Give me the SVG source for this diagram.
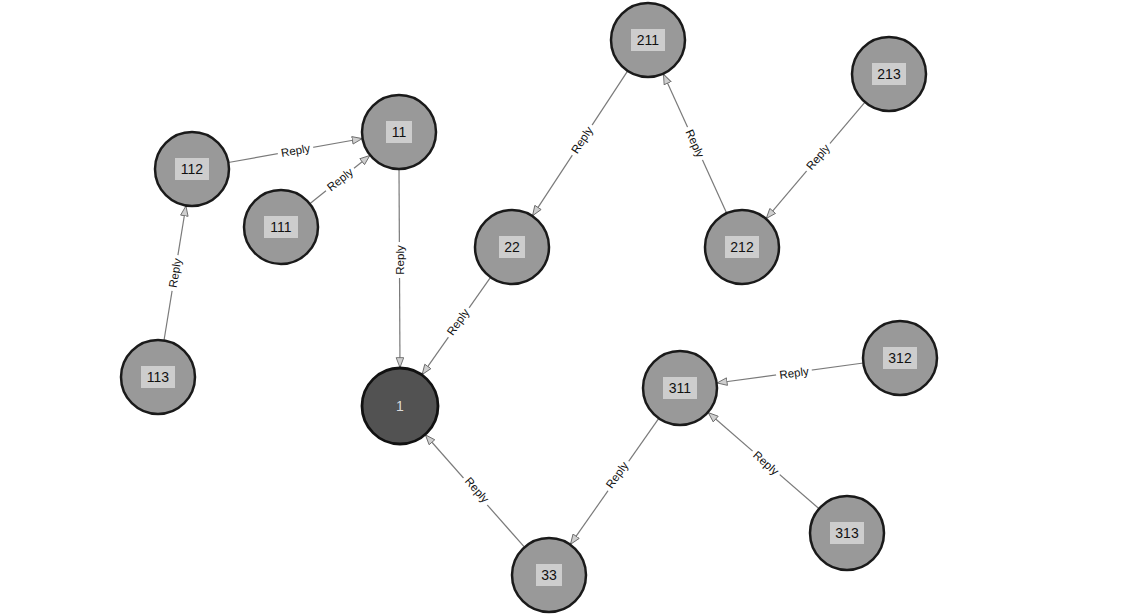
<svg xmlns="http://www.w3.org/2000/svg" width="1125" height="614" viewBox="0 0 1125 614">
<style>
.edge{stroke:#7a7a7a;stroke-width:1.2;fill:none;marker-end:url(#arr)}
.elbg{fill:#fff}
.el{font-family:"Liberation Sans",Arial,sans-serif;font-size:11.5px;fill:#111;text-anchor:middle;dominant-baseline:central}
.node{fill:#999;stroke:#1a1a1a;stroke-width:2.5}
.root{fill:#525252;stroke:#111;stroke-width:2.8}
.lbox{fill:#cdcdcd}
.nl{font-family:"Liberation Sans",Arial,sans-serif;font-size:14px;fill:#111;text-anchor:middle;dominant-baseline:central}
</style>
<defs>
<marker id="arr" viewBox="0 0 12 10" refX="12" refY="5" markerWidth="11" markerHeight="9" markerUnits="userSpaceOnUse" orient="auto">
<path d="M0.5,0.8 L11.5,5 L0.5,9.2 Z" fill="#cfcfcf" stroke="#6a6a6a" stroke-width="1"/>
</marker>
</defs>
<rect width="1125" height="614" fill="#fff"/>
<g id="connectors">
<line class="edge" x1="228.4" y1="162.5" x2="362.6" y2="138.5"/>
<g transform="translate(295.5,150.5) rotate(-10.1)"><rect class="elbg" x="-18" y="-7" width="36" height="14"/><text class="el">Reply</text></g>
<line class="edge" x1="309.8" y1="203.8" x2="370.2" y2="155.2"/>
<g transform="translate(340,179.5) rotate(-38.8)"><rect class="elbg" x="-18" y="-7" width="36" height="14"/><text class="el">Reply</text></g>
<line class="edge" x1="164" y1="340.5" x2="186" y2="205.5"/>
<g transform="translate(175,273) rotate(-80.7)"><rect class="elbg" x="-18" y="-7" width="36" height="14"/><text class="el">Reply</text></g>
<line class="edge" x1="399" y1="169" x2="400" y2="368"/>
<g transform="translate(399.5,260) rotate(-90)"><rect class="elbg" x="-18" y="-7" width="36" height="14"/><text class="el">Reply</text></g>
<line class="edge" x1="490.7" y1="277.2" x2="421.9" y2="374.9"/>
<g transform="translate(458,322) rotate(-54.8)"><rect class="elbg" x="-18" y="-7" width="36" height="14"/><text class="el">Reply</text></g>
<line class="edge" x1="627.7" y1="70.9" x2="532.3" y2="216.1"/>
<g transform="translate(582,140) rotate(-56.7)"><rect class="elbg" x="-18" y="-7" width="36" height="14"/><text class="el">Reply</text></g>
<line class="edge" x1="726.7" y1="213.3" x2="663.3" y2="73.7"/>
<g transform="translate(695,143.5) rotate(65.6)"><rect class="elbg" x="-18" y="-7" width="36" height="14"/><text class="el">Reply</text></g>
<line class="edge" x1="865" y1="102.2" x2="766" y2="218.8"/>
<g transform="translate(818,157) rotate(-49.6)"><rect class="elbg" x="-18" y="-7" width="36" height="14"/><text class="el">Reply</text></g>
<line class="edge" x1="524.5" y1="547.2" x2="425.1" y2="434.5"/>
<g transform="translate(477,490) rotate(48.6)"><rect class="elbg" x="-18" y="-7" width="36" height="14"/><text class="el">Reply</text></g>
<line class="edge" x1="658.8" y1="418.3" x2="570.2" y2="544.7"/>
<g transform="translate(617,475) rotate(-55)"><rect class="elbg" x="-18" y="-7" width="36" height="14"/><text class="el">Reply</text></g>
<line class="edge" x1="863.3" y1="363" x2="716.7" y2="383"/>
<g transform="translate(794,373) rotate(-7.8)"><rect class="elbg" x="-18" y="-7" width="36" height="14"/><text class="el">Reply</text></g>
<line class="edge" x1="819.1" y1="508.7" x2="707.9" y2="412.3"/>
<g transform="translate(766,463) rotate(41)"><rect class="elbg" x="-18" y="-7" width="36" height="14"/><text class="el">Reply</text></g>
</g>
<g id="n211"><circle class="node" cx="648" cy="40" r="37"/><rect class="lbox" x="631" y="29" width="34" height="22"/><text class="nl" x="648" y="40">211</text></g>
<g id="n213"><circle class="node" cx="889" cy="74" r="37"/><rect class="lbox" x="872" y="63" width="34" height="22"/><text class="nl" x="889" y="74">213</text></g>
<g id="n11"><circle class="node" cx="399" cy="132" r="37"/><rect class="lbox" x="386" y="121" width="26" height="22"/><text class="nl" x="399" y="132">11</text></g>
<g id="n112"><circle class="node" cx="192" cy="169" r="37"/><rect class="lbox" x="175" y="158" width="34" height="22"/><text class="nl" x="192" y="169">112</text></g>
<g id="n111"><circle class="node" cx="281" cy="227" r="37"/><rect class="lbox" x="264" y="216" width="34" height="22"/><text class="nl" x="281" y="227">111</text></g>
<g id="n22"><circle class="node" cx="512" cy="247" r="37"/><rect class="lbox" x="499" y="236" width="26" height="22"/><text class="nl" x="512" y="247">22</text></g>
<g id="n212"><circle class="node" cx="742" cy="247" r="37"/><rect class="lbox" x="725" y="236" width="34" height="22"/><text class="nl" x="742" y="247">212</text></g>
<g id="n113"><circle class="node" cx="158" cy="377" r="37"/><rect class="lbox" x="141" y="366" width="34" height="22"/><text class="nl" x="158" y="377">113</text></g>
<g id="n1"><circle class="root" cx="400" cy="406" r="38"/><text class="nl" x="400" y="406" style="fill:#dcdcdc">1</text></g>
<g id="n311"><circle class="node" cx="680" cy="388" r="37"/><rect class="lbox" x="663" y="377" width="34" height="22"/><text class="nl" x="680" y="388">311</text></g>
<g id="n312"><circle class="node" cx="900" cy="358" r="37"/><rect class="lbox" x="883" y="347" width="34" height="22"/><text class="nl" x="900" y="358">312</text></g>
<g id="n313"><circle class="node" cx="847" cy="533" r="37"/><rect class="lbox" x="830" y="522" width="34" height="22"/><text class="nl" x="847" y="533">313</text></g>
<g id="n33"><circle class="node" cx="549" cy="575" r="37"/><rect class="lbox" x="536" y="564" width="26" height="22"/><text class="nl" x="549" y="575">33</text></g>
</svg>
